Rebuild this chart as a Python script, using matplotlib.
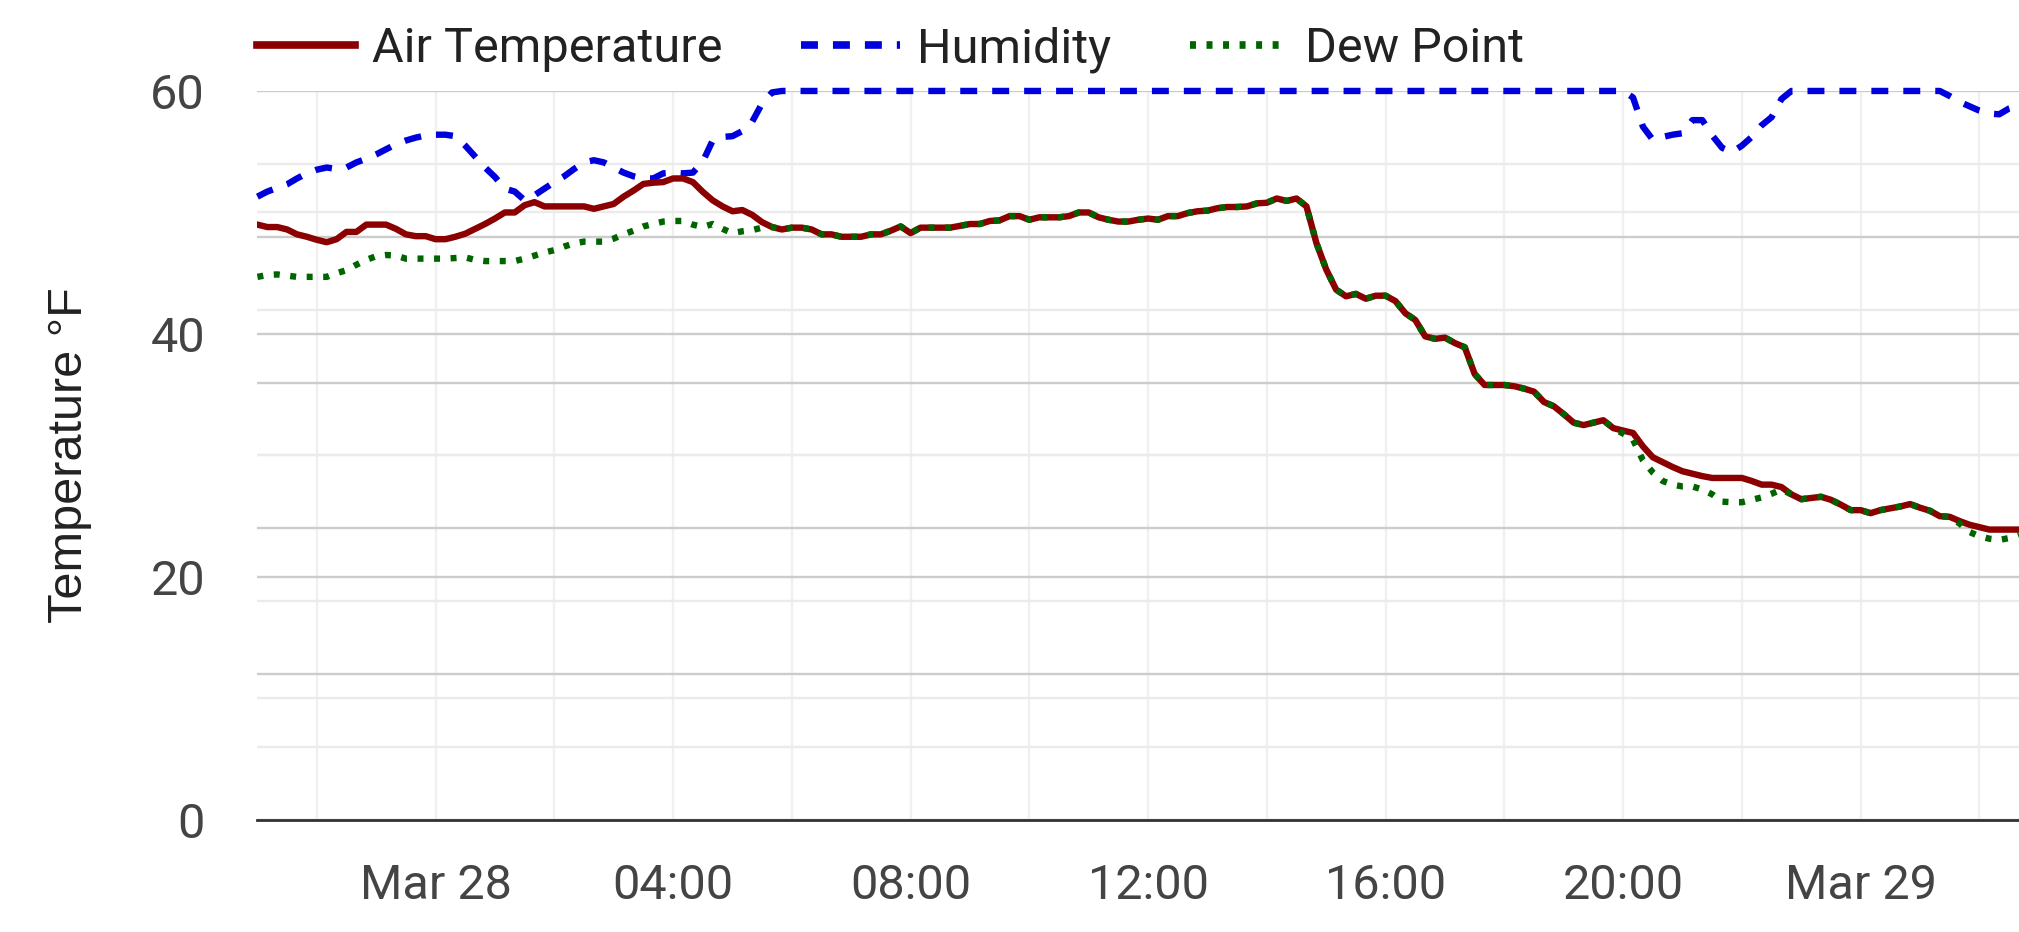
import pandas as pd
import matplotlib
matplotlib.use("Agg")
import matplotlib.pyplot as plt
import matplotlib.dates as mdates
from matplotlib.ticker import FuncFormatter

plt.rcParams["font.family"] = ["Roboto", "DejaVu Sans"]
plt.rcParams["lines.scale_dashes"] = False

# 10-minute readings, starting Mar 27 21:00
start_time = "2024-03-27 21:00"

air_temp = [
    49.0, 48.8, 48.8, 48.6, 48.2, 48.0, 47.75, 47.55, 47.8, 48.4,
    48.4, 49.0, 49.0, 49.0, 48.65, 48.2, 48.05, 48.05, 47.8, 47.8,
    48.0, 48.25, 48.65, 49.05, 49.5, 50.0, 50.0, 50.6, 50.85, 50.5,
    50.5, 50.5, 50.5, 50.5, 50.3, 50.5, 50.7, 51.3, 51.8, 52.35,
    52.45, 52.5, 52.8, 52.8, 52.5, 51.7, 51.0, 50.5, 50.1, 50.2,
    49.8, 49.2, 48.8, 48.6, 48.75, 48.75, 48.6, 48.2, 48.2, 48.0,
    48.0, 48.0, 48.2, 48.2, 48.5, 48.85, 48.3, 48.75, 48.75, 48.75,
    48.75, 48.9, 49.05, 49.05, 49.3, 49.35, 49.7, 49.7, 49.4, 49.6,
    49.6, 49.6, 49.7, 50.0, 50.0, 49.6, 49.4, 49.25, 49.25, 49.4,
    49.5, 49.4, 49.7, 49.7, 49.95, 50.1, 50.15, 50.35, 50.45, 50.45,
    50.5, 50.75, 50.8, 51.15, 50.95, 51.15, 50.5, 47.5, 45.3, 43.65,
    43.1, 43.3, 42.9, 43.15, 43.15, 42.7, 41.7, 41.15, 39.8, 39.6,
    39.7, 39.25, 38.9, 36.7, 35.8, 35.8, 35.8, 35.7, 35.5, 35.25,
    34.4, 34.05, 33.4, 32.7, 32.5, 32.7, 32.9, 32.25, 32.05, 31.85,
    30.75, 29.85, 29.45, 29.05, 28.7, 28.5, 28.3, 28.15, 28.15, 28.15,
    28.15, 27.9, 27.6, 27.6, 27.4, 26.8, 26.4, 26.5, 26.6, 26.35,
    25.95, 25.5, 25.5, 25.25, 25.5, 25.65, 25.8, 26.0, 25.7, 25.45,
    25.0, 24.95, 24.6, 24.3, 24.1, 23.9, 23.9, 23.9, 23.9,
]

dew_point = [
    44.7, 44.85, 44.9, 44.8, 44.7, 44.7, 44.7, 44.7, 45.0, 45.25,
    45.7, 46.1, 46.4, 46.5, 46.45, 46.2, 46.2, 46.2, 46.2, 46.2,
    46.25, 46.3, 46.1, 46.0, 46.0, 46.0, 46.0, 46.2, 46.45, 46.7,
    46.9, 47.2, 47.45, 47.6, 47.6, 47.6, 47.85, 48.2, 48.5, 48.85,
    49.05, 49.25, 49.3, 49.3, 49.0, 48.8, 49.05, 48.65, 48.3, 48.45,
    48.55, 48.75, 48.8, 48.6, 48.75, 48.75, 48.6, 48.2, 48.2, 48.0,
    48.0, 48.0, 48.2, 48.2, 48.5, 48.85, 48.3, 48.75, 48.75, 48.75,
    48.75, 48.9, 49.05, 49.05, 49.3, 49.35, 49.7, 49.7, 49.4, 49.6,
    49.6, 49.6, 49.7, 50.0, 50.0, 49.6, 49.4, 49.25, 49.25, 49.4,
    49.5, 49.4, 49.7, 49.7, 49.95, 50.1, 50.15, 50.35, 50.45, 50.45,
    50.5, 50.75, 50.8, 51.15, 50.95, 51.15, 50.5, 47.5, 45.3, 43.65,
    43.1, 43.3, 42.9, 43.15, 43.15, 42.7, 41.7, 41.15, 39.8, 39.6,
    39.7, 39.25, 38.9, 36.7, 35.8, 35.8, 35.8, 35.7, 35.5, 35.25,
    34.4, 34.05, 33.4, 32.7, 32.5, 32.7, 32.9, 32.25, 31.8, 31.3,
    29.6, 28.6, 27.9, 27.6, 27.45, 27.45, 27.2, 26.8, 26.2, 26.15,
    26.15, 26.35, 26.55, 26.85, 27.2, 26.8, 26.4, 26.5, 26.6, 26.35,
    25.95, 25.5, 25.5, 25.25, 25.5, 25.65, 25.8, 26.0, 25.7, 25.45,
    25.0, 24.95, 24.4, 23.7, 23.35, 23.15, 23.05, 23.2, 23.5,
]

# relative humidity, %
humidity = [
    85.5, 86.2, 86.7, 87.2, 88.0, 88.7, 89.2, 89.5, 89.3, 89.5,
    90.2, 90.7, 91.3, 92.0, 92.7, 93.2, 93.6, 93.9, 94.0, 94.0,
    93.8, 92.5, 91.0, 89.5, 88.2, 86.6, 86.2, 85.0, 85.7, 86.6,
    87.5, 88.3, 89.3, 90.2, 90.5, 90.2, 89.5, 88.8, 88.3, 88.0,
    88.0, 88.7, 88.8, 88.7, 88.8, 90.3, 93.2, 93.7, 93.8, 94.5,
    95.8, 98.3, 99.8, 100, 100, 100, 100, 100, 100, 100,
    100, 100, 100, 100, 100, 100, 100, 100, 100, 100,
    100, 100, 100, 100, 100, 100, 100, 100, 100, 100,
    100, 100, 100, 100, 100, 100, 100, 100, 100, 100,
    100, 100, 100, 100, 100, 100, 100, 100, 100, 100,
    100, 100, 100, 100, 100, 100, 100, 100, 100, 100,
    100, 100, 100, 100, 100, 100, 100, 100, 100, 100,
    100, 100, 100, 100, 100, 100, 100, 100, 100, 100,
    100, 100, 100, 100, 100, 100, 100, 100, 100, 99.1,
    95.1, 93.3, 93.7, 94.0, 94.2, 96.0, 96.0, 93.9, 92.2, 91.6,
    92.5, 93.7, 95.3, 96.4, 98.9, 100, 100, 100, 100, 100,
    100, 100, 100, 100, 100, 100, 100, 100, 100, 100,
    100, 99.3, 98.5, 97.9, 97.3, 96.9, 96.8, 97.6, 98.0,
]

times = pd.date_range(start_time, periods=len(air_temp), freq="10min").to_pydatetime()

TICK_COLOR = "#444444"
TEXT_COLOR = "#222222"
MAJOR_GRID = "#cccccc"
MINOR_GRID = "#ebebeb"
LW = 4.6

fig = plt.figure(figsize=(20.19, 9.32), dpi=100)
ax_h = fig.add_axes([0.1275, 0.1202, 0.8725, 0.7822])
ax = ax_h.twinx()
ax.set_zorder(ax_h.get_zorder() + 1)
ax.patch.set_visible(False)

# humidity axis (hidden scale, only its grid)
hum_line, = ax_h.plot(times, humidity, color="#0000dd", lw=LW,
                      dashes=(12.2, 10.8), label="Humidity", clip_on=False)
ax_h.set_ylim(0, 100)
ax_h.set_yticks([20, 40, 60, 80, 100])
ax_h.set_yticks([10, 30, 50, 70, 90], minor=True)
ax_h.grid(axis="y", which="major", color=MAJOR_GRID, lw=1.7)
ax_h.grid(axis="y", which="minor", color=MINOR_GRID, lw=1.7)
ax_h.tick_params(axis="y", which="both", length=0, labelleft=False, labelright=False)

ax_h.set_xlim(times[0], times[-1])
ax_h.xaxis.set_major_locator(mdates.HourLocator(byhour=range(0, 24, 4)))
ax_h.xaxis.set_minor_locator(mdates.HourLocator(byhour=range(0, 24, 2)))


def time_label(x, pos):
    d = mdates.num2date(x)
    if d.hour == 0 and d.minute == 0:
        return d.strftime("%b %d")
    return d.strftime("%H:%M")


ax_h.xaxis.set_major_formatter(FuncFormatter(time_label))
ax_h.grid(axis="x", which="both", color="#f0f0f0", lw=1.7)
ax_h.tick_params(axis="x", which="both", length=0, labelsize=35,
                 labelcolor=TICK_COLOR, pad=31)

# temperature axis
temp_line, = ax.plot(times, air_temp, color="#8b0000", lw=LW, label="Air Temperature")
dew_line, = ax.plot(times, dew_point, color="#006400", lw=LW,
                    dashes=(4.3, 7.6), label="Dew Point")
ax.set_ylim(0, 60)
ax.yaxis.tick_left()
ax.set_yticks([0, 20, 40, 60])
ax.set_yticks([10, 30, 50], minor=True)
ax.grid(axis="y", which="major", color=MAJOR_GRID, lw=1.7)
ax.grid(axis="y", which="minor", color=MINOR_GRID, lw=1.7)
ax.tick_params(axis="y", which="both", length=0, labelsize=35,
               labelcolor=TICK_COLOR, pad=37.8)

for a in (ax, ax_h):
    for s in a.spines.values():
        s.set_visible(False)
ax.spines["bottom"].set_visible(True)
ax.spines["bottom"].set_color("#333333")
ax.spines["bottom"].set_linewidth(2.0)

fig.text(82 / 2019, 0.5113, "Temperature °F", rotation=90, rotation_mode="anchor",
         ha="center", va="baseline", family="Liberation Sans", fontsize=35,
         color=TEXT_COLOR)

leg = fig.legend([temp_line, hum_line, dew_line],
                 ["Air Temperature", "Humidity", "Dew Point"],
                 loc="center left", bbox_to_anchor=(257 / 2019, 0.947),
                 ncol=3, frameon=False, fontsize=35, borderpad=0,
                 borderaxespad=0, handlelength=2.02, handletextpad=0.35,
                 columnspacing=1.62, labelcolor=TEXT_COLOR)
for line in leg.get_lines():
    line.set_linewidth(5.5)

# the 60°F grid line sits under the 100% humidity line; keep only the latter
fig.canvas.draw()
for t in ax.yaxis.get_major_ticks():
    if abs(t.get_loc() - 60) < 1e-6:
        t.gridline.set_visible(False)

fig.savefig("out.png", dpi=100)
